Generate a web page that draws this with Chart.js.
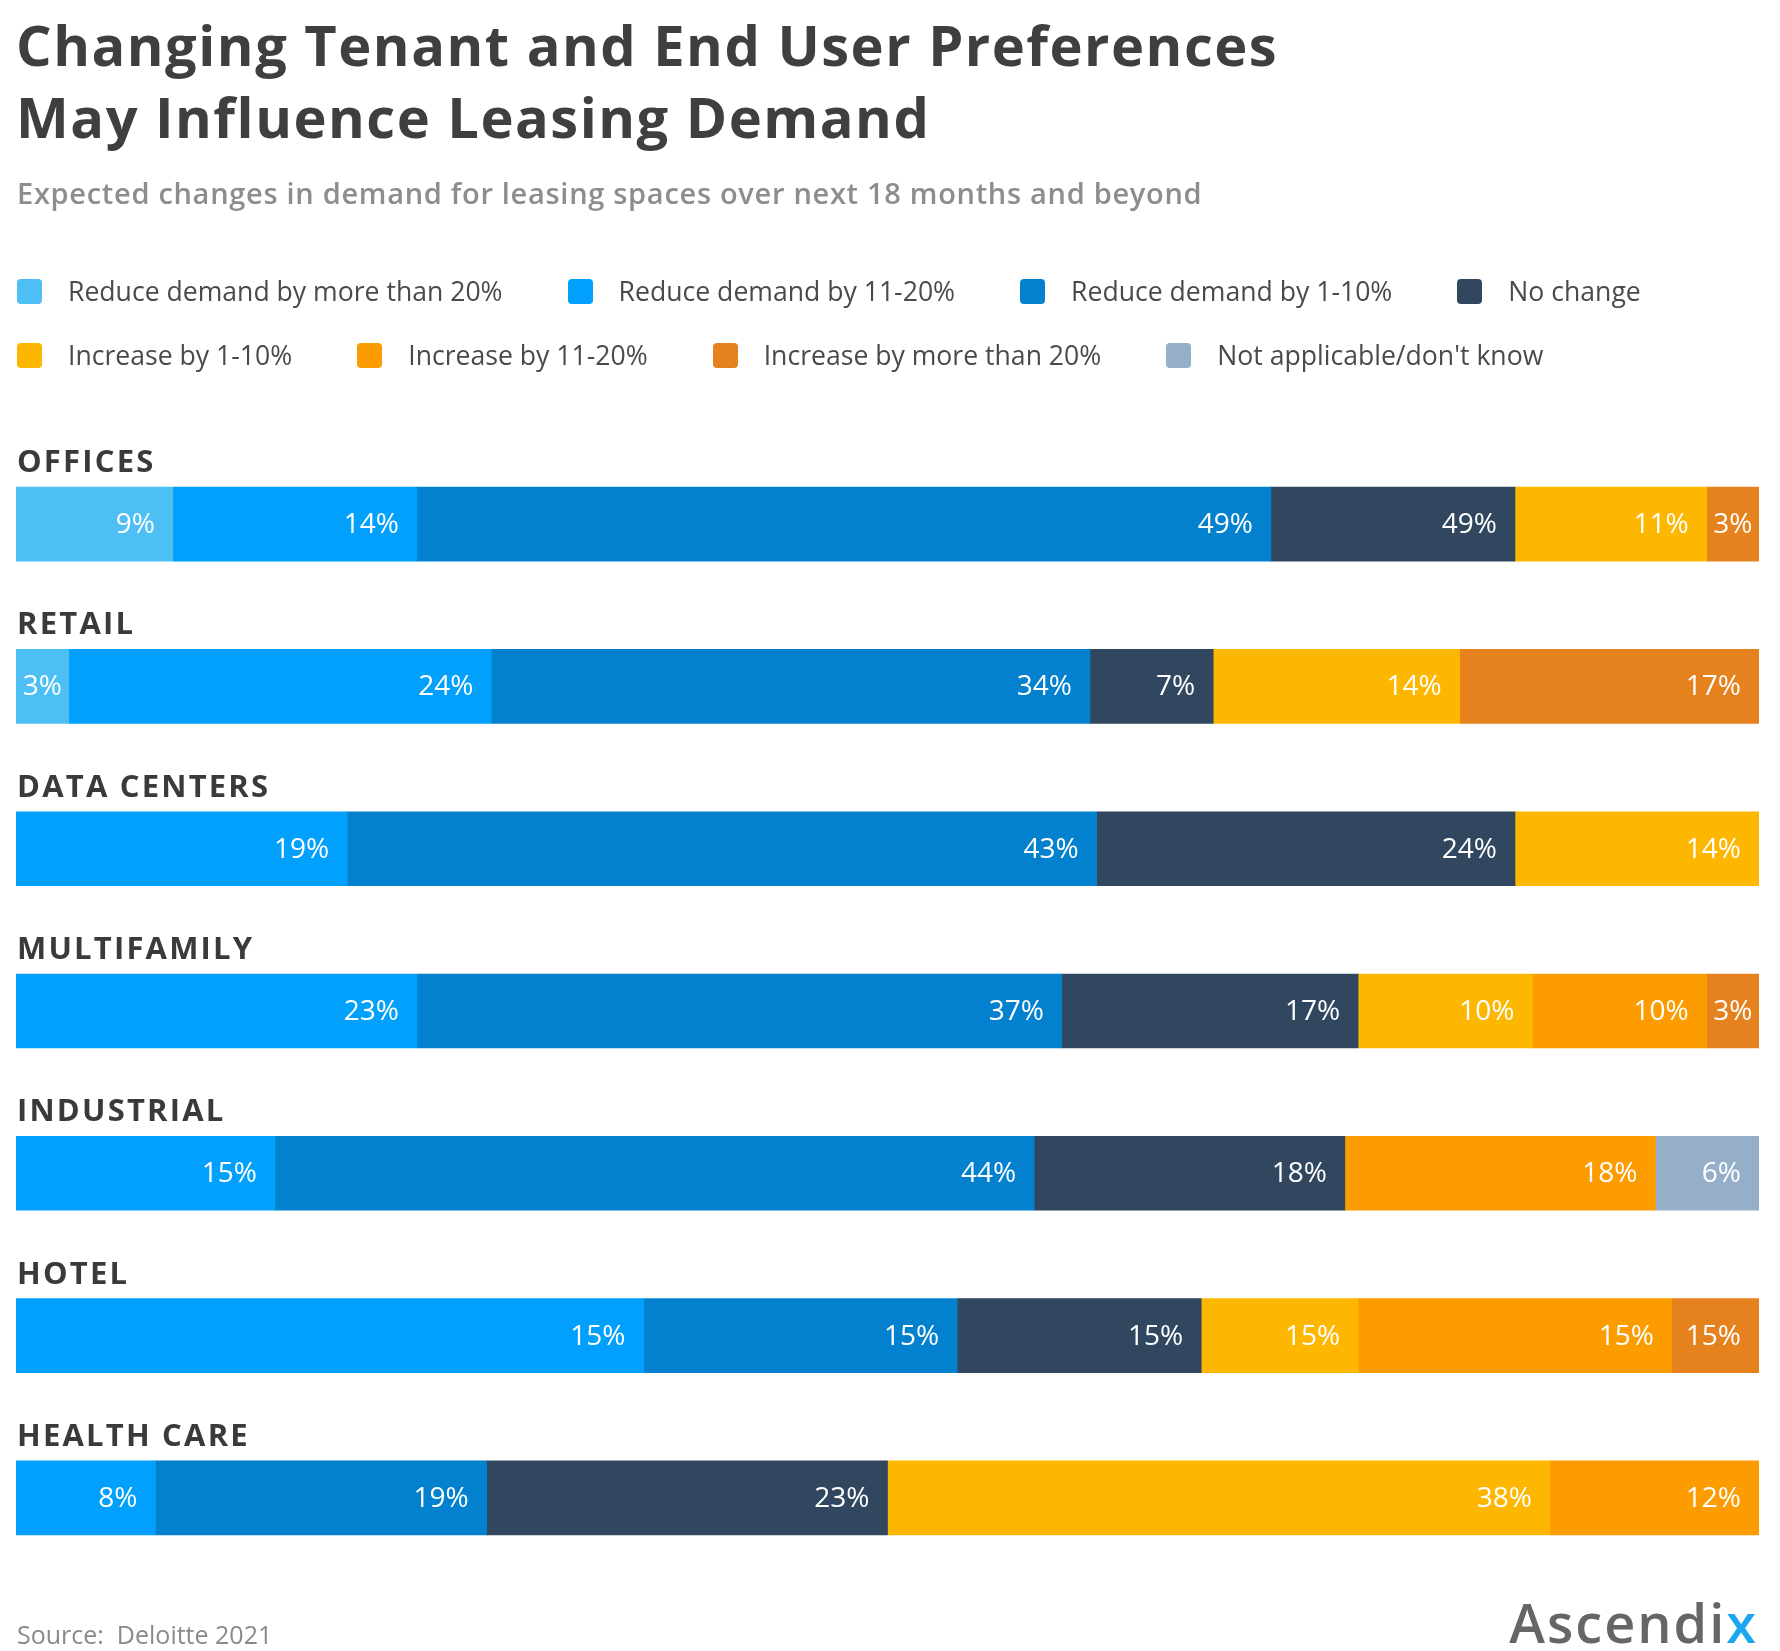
<!DOCTYPE html>
<html>
<head>
<meta charset="utf-8">
<script src="https://cdn.jsdelivr.net/npm/chart.js@4.4.1/dist/chart.umd.min.js"></script>
<style>
html, body { margin: 0; padding: 0; background: #fff; }
#page { position: relative; width: 1780px; height: 1651px; overflow: hidden; background: #fff; }
#chart { position: absolute; left: 0; top: 0; }
.title { position: absolute; left: 16px; top: 8px; font-family: "Open Sans", sans-serif; font-weight: 700;
  font-size: 56px; line-height: 72px; letter-spacing: 1.5px; color: #3f3f3f; white-space: nowrap; }
.subtitle { position: absolute; left: 17px; top: 175px; font-family: "Open Sans", sans-serif; font-weight: 600;
  font-size: 29px; line-height: 36px; letter-spacing: 0.7px; color: #8d8d8d; white-space: nowrap; }
.legend-row { position: absolute; left: 17px; height: 36px; display: flex; align-items: center; }
.legend-item { display: flex; align-items: center; margin-right: 65px; }
.legend-box { width: 25px; height: 25px; border-radius: 4px; margin-right: 26px; flex: none; }
.legend-text { font-family: "Open Sans", sans-serif; font-weight: 400; font-size: 26.6px; line-height: 36px;
  color: #4a4a4a; white-space: nowrap; }
.source { position: absolute; left: 17px; top: 1616px; font-family: "Open Sans", sans-serif; font-weight: 400;
  font-size: 25px; line-height: 36px; color: #8a8a8a; white-space: pre; }
.logo { position: absolute; right: 22px; top: 1592px; font-family: "Open Sans", sans-serif; font-weight: 600;
  font-size: 54px; line-height: 60px; color: #666; letter-spacing: 2px; white-space: nowrap; }
.logo .x { color: #1aa7ef; position: relative; }
</style>
</head>
<body>
<div id="page">
  <canvas id="chart" width="1780" height="1651"></canvas>
  <div class="title">Changing Tenant and End User Preferences<br>May Influence Leasing Demand</div>
  <div class="subtitle">Expected changes in demand for leasing spaces over next 18 months and beyond</div>
  <div class="legend-row" id="legendRow1" style="top:273px"></div>
  <div class="legend-row" id="legendRow2" style="top:337px"></div>
  <div class="source">Source:  Deloitte 2021</div>
  <div class="logo">Ascendi<span class="x">x</span></div>
</div>
<script>
// ---- Data ----
const categories = ['OFFICES', 'RETAIL', 'DATA CENTERS', 'MULTIFAMILY', 'INDUSTRIAL', 'HOTEL', 'HEALTH CARE'];
const seriesNames = ['Reduce demand by more than 20%', 'Reduce demand by 11-20%', 'Reduce demand by 1-10%', 'No change',
  'Increase by 1-10%', 'Increase by 11-20%', 'Increase by more than 20%', "Not applicable/don't know"];
const seriesColors = ['#4dbff5', '#00a0fc', '#0381cf', '#30475f', '#fdb700', '#fd9c00', '#e6821e', '#95afc9'];

// bar segment sizes (as drawn, %)
const reduceOver20   = [9,  3,    null, null, null, null, null];
const reduce11to20   = [14, 24,   19,   23,   15,   36,   8];
const reduce1to10    = [49, 34,   43,   37,   44,   18,   19];
const noChange       = [14, 7,    24,   17,   18,   14,   23];
const increase1to10  = [11, 14,   14,   10,   null, 9,    38];
const increase11to20 = [null, null, null, 10, 18,   18,   12];
const increaseOver20 = [3,  17,   null, 3,    null, 5,    null];
const notApplicable  = [null, null, null, null, 6,  null, null];

// values printed on the segments (%)
const printedReduceOver20   = [9,  3,    null, null, null, null, null];
const printedReduce11to20   = [14, 24,   19,   23,   15,   15,   8];
const printedReduce1to10    = [49, 34,   43,   37,   44,   15,   19];
const printedNoChange       = [49, 7,    24,   17,   18,   15,   23];
const printedIncrease1to10  = [11, 14,   14,   10,   null, 15,   38];
const printedIncrease11to20 = [null, null, null, 10, 18,   15,   12];
const printedIncreaseOver20 = [3,  17,   null, 3,    null, 15,   null];
const printedNotApplicable  = [null, null, null, null, 6,  null, null];

const seriesValues = [reduceOver20, reduce11to20, reduce1to10, noChange, increase1to10, increase11to20, increaseOver20, notApplicable];
const seriesPrinted = [printedReduceOver20, printedReduce11to20, printedReduce1to10, printedNoChange,
  printedIncrease1to10, printedIncrease11to20, printedIncreaseOver20, printedNotApplicable];

// each bar is shown as a share of its own total
const totals = categories.map((_, i) => seriesValues.reduce((s, arr) => s + (arr[i] || 0), 0));

// ---- Legend (HTML) ----
const rows = [document.getElementById('legendRow1'), document.getElementById('legendRow2')];
seriesNames.forEach((name, k) => {
  const item = document.createElement('div');
  item.className = 'legend-item';
  const box = document.createElement('div');
  box.className = 'legend-box';
  box.style.background = seriesColors[k];
  const txt = document.createElement('div');
  txt.className = 'legend-text';
  txt.textContent = name;
  item.appendChild(box); item.appendChild(txt);
  rows[k < 4 ? 0 : 1].appendChild(item);
});

// ---- Chart ----
const BAR_H = 74;
const segLabels = {
  id: 'segLabels',
  afterDatasetsDraw(chart) {
    const ctx = chart.ctx;
    ctx.save();
    // value labels
    ctx.font = '400 28px "Open Sans", sans-serif';
    ctx.fillStyle = '#ffffff';
    ctx.textBaseline = 'middle';
    ctx.textAlign = 'right';
    chart.data.datasets.forEach((ds, di) => {
      const meta = chart.getDatasetMeta(di);
      meta.data.forEach((bar, i) => {
        if (ds.data[i] == null || ds.printed[i] == null) return;
        const p = bar.getProps(['x', 'base', 'y'], true);
        const left = Math.min(p.x, p.base), right = Math.max(p.x, p.base);
        const text = ds.printed[i] + '%';
        const w = ctx.measureText(text).width;
        let x = right - 18;
        if (right - left < w + 30) x = (left + right) / 2 + w / 2;
        ctx.fillText(text, x, p.y + 1);
      });
    });
    // category labels above bars
    const yScale = chart.scales.y;
    ctx.font = '700 31px "Open Sans", sans-serif';
    ctx.fillStyle = '#3a3a3a';
    ctx.textAlign = 'left';
    ctx.textBaseline = 'alphabetic';
    try { ctx.letterSpacing = '2.2px'; } catch (e) {}
    chart.data.labels.forEach((lab, i) => {
      const yc = yScale.getPixelForValue(i);
      ctx.fillText(lab, 17, yc - BAR_H / 2 - 15);
    });
    ctx.restore();
  }
};

new Chart(document.getElementById('chart'), {
  type: 'bar',
  data: {
    labels: categories,
    datasets: seriesNames.map((name, k) => ({
      label: name,
      data: seriesValues[k].map((v, i) => v == null ? null : v / totals[i] * 100),
      printed: seriesPrinted[k],
      backgroundColor: seriesColors[k],
      borderWidth: 0,
      barThickness: BAR_H
    }))
  },
  options: {
    indexAxis: 'y',
    responsive: false,
    animation: false,
    devicePixelRatio: 1,
    layout: { padding: { top: 443, bottom: 72, left: 16, right: 21 } },
    scales: {
      x: { stacked: true, min: 0, max: 100, display: false },
      y: { stacked: true, display: false }
    },
    plugins: { legend: { display: false }, tooltip: { enabled: false }, title: { display: false } }
  },
  plugins: [segLabels]
});
</script>
</body>
</html>
